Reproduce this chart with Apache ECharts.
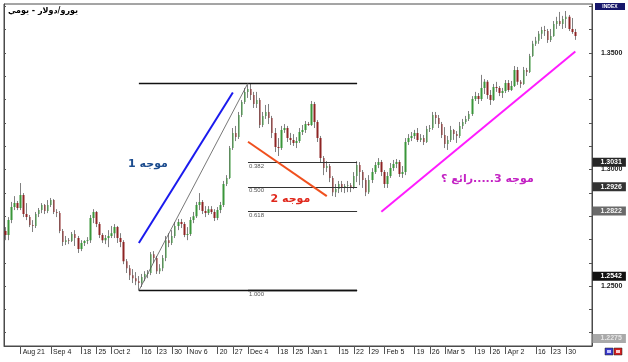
<!DOCTYPE html>
<html><head><meta charset="utf-8">
<script src="https://cdn.jsdelivr.net/npm/echarts@6/dist/echarts.min.js"></script>
<style>html,body{margin:0;padding:0;background:#fff}#c{width:628px;height:362px}</style>
</head><body><div id="c"></div>
<script>
// ---- Data: daily EUR/USD candles [open, close, low, high] ----
const aug06 = [
[1.2736,1.2719,1.2697,1.2753],[1.2719,1.2783,1.2697,1.2796],[1.2783,1.2839,1.2770,1.2861],[1.2839,1.2856,1.2826,1.2886],[1.2856,1.2835,1.2826,1.2865],
[1.2835,1.2891,1.2826,1.2942],[1.2891,1.2809,1.2796,1.2899],[1.2809,1.2796,1.2783,1.2856],[1.2796,1.2762,1.2753,1.2805],[1.2762,1.2758,1.2732,1.2783],
[1.2758,1.2809,1.2749,1.2818],[1.2809,1.2826,1.2796,1.2835],[1.2826,1.2848,1.2813,1.2856],[1.2848,1.2822,1.2809,1.2852]];
const sep06 = [
[1.2822,1.2848,1.2813,1.2869],
[1.2848,1.2869,1.2839,1.2878],[1.2869,1.2818,1.2809,1.2873],[1.2818,1.2813,1.2796,1.2830],[1.2813,1.2736,1.2727,1.2822],[1.2736,1.2689,1.2672,1.2745],
[1.2689,1.2697,1.2676,1.2715],[1.2697,1.2693,1.2680,1.2706],[1.2693,1.2723,1.2689,1.2732],[1.2723,1.2706,1.2672,1.2740],[1.2706,1.2659,1.2642,1.2715],
[1.2659,1.2685,1.2650,1.2697],[1.2685,1.2693,1.2672,1.2697],[1.2693,1.2697,1.2680,1.2710],[1.2697,1.2792,1.2685,1.2805],[1.2792,1.2818,1.2770,1.2830],
[1.2818,1.2766,1.2753,1.2822],[1.2766,1.2719,1.2706,1.2775],[1.2719,1.2697,1.2685,1.2727],[1.2697,1.2706,1.2680,1.2719],[1.2706,1.2715,1.2667,1.2740]];
const oct06 = [
[1.2715,1.2727,1.2706,1.2758],[1.2727,1.2753,1.2706,1.2766],[1.2753,1.2706,1.2685,1.2758],[1.2706,1.2689,1.2667,1.2727],[1.2689,1.2607,1.2594,1.2697],
[1.2607,1.2577,1.2556,1.2616],[1.2577,1.2547,1.2526,1.2590],[1.2547,1.2534,1.2513,1.2573],[1.2534,1.2521,1.2504,1.2560],[1.2521,1.2513,1.2481,1.2543],
[1.2513,1.2539,1.2496,1.2552],[1.2539,1.2552,1.2521,1.2564],[1.2552,1.2556,1.2534,1.2569],[1.2556,1.2637,1.2547,1.2646],[1.2637,1.2620,1.2599,1.2650],
[1.2620,1.2564,1.2552,1.2629],[1.2564,1.2577,1.2552,1.2594],[1.2577,1.2620,1.2564,1.2633],[1.2620,1.2697,1.2607,1.2715],[1.2697,1.2685,1.2667,1.2727],
[1.2685,1.2715,1.2676,1.2740],[1.2715,1.2758,1.2706,1.2775]];
const nov06 = [
[1.2758,1.2775,1.2740,1.2788],[1.2775,1.2766,1.2749,1.2788],[1.2766,1.2719,1.2710,1.2775],
[1.2719,1.2723,1.2697,1.2753],[1.2723,1.2783,1.2715,1.2796],[1.2783,1.2800,1.2770,1.2818],[1.2800,1.2848,1.2792,1.2861],[1.2848,1.2861,1.2826,1.2899],
[1.2861,1.2822,1.2809,1.2869],[1.2822,1.2813,1.2796,1.2843],[1.2813,1.2830,1.2805,1.2843],[1.2830,1.2818,1.2809,1.2843],[1.2818,1.2792,1.2779,1.2830],
[1.2792,1.2826,1.2783,1.2839],[1.2826,1.2848,1.2813,1.2861],[1.2848,1.2938,1.2839,1.2951],[1.2938,1.2964,1.2929,1.2976],[1.2964,1.3092,1.2959,1.3101],
[1.3092,1.3157,1.3084,1.3178],[1.3157,1.3139,1.3122,1.3187],[1.3139,1.3234,1.3131,1.3247],[1.3234,1.3290,1.3225,1.3298]];
const dec06 = [
[1.3290,1.3333,1.3281,1.3350],
[1.3333,1.3345,1.3307,1.3363],[1.3345,1.3320,1.3298,1.3371],[1.3320,1.3281,1.3264,1.3333],[1.3281,1.3298,1.3264,1.3333],[1.3298,1.3191,1.3178,1.3307],
[1.3191,1.3230,1.3182,1.3247],[1.3230,1.3247,1.3217,1.3277],[1.3247,1.3221,1.3195,1.3281],[1.3221,1.3157,1.3135,1.3230],[1.3157,1.3097,1.3075,1.3178],
[1.3097,1.3092,1.3058,1.3135],[1.3092,1.3170,1.3084,1.3187],[1.3170,1.3178,1.3157,1.3195],[1.3178,1.3135,1.3118,1.3187],[1.3135,1.3127,1.3105,1.3157],
[1.3127,1.3114,1.3101,1.3152],[1.3114,1.3122,1.3092,1.3139],[1.3122,1.3161,1.3114,1.3178],[1.3161,1.3170,1.3148,1.3191],[1.3170,1.3195,1.3157,1.3208]];
const jan07 = [
[1.3195,1.3191,1.3187,1.3204],[1.3191,1.3281,1.3187,1.3294],[1.3281,1.3204,1.3178,1.3290],[1.3204,1.3135,1.3118,1.3212],[1.3135,1.3049,1.3032,1.3144],
[1.3049,1.3006,1.2976,1.3058],[1.3006,1.3015,1.2989,1.3036],[1.3015,1.2964,1.2946,1.3024],[1.2964,1.2903,1.2886,1.2972],[1.2903,1.2916,1.2882,1.2938],
[1.2916,1.2938,1.2899,1.2951],[1.2938,1.2921,1.2903,1.2951],[1.2921,1.2929,1.2899,1.2938],[1.2929,1.2933,1.2903,1.2951],[1.2933,1.2925,1.2903,1.2942],
[1.2925,1.2972,1.2916,1.2989],[1.2972,1.3019,1.2946,1.3036],[1.3019,1.2989,1.2933,1.3032],[1.2989,1.2955,1.2921,1.2998],[1.2955,1.2903,1.2886,1.2964],
[1.2903,1.2955,1.2895,1.2976],[1.2955,1.2989,1.2942,1.3006],[1.2989,1.3019,1.2981,1.3032]];
const feb07 = [
[1.3019,1.3032,1.3006,1.3049],[1.3032,1.2989,1.2972,1.3041],
[1.2989,1.2938,1.2921,1.2998],[1.2938,1.2972,1.2921,1.2989],[1.2972,1.3006,1.2964,1.3028],[1.3006,1.3024,1.2994,1.3041],[1.3024,1.3032,1.3006,1.3045],
[1.3032,1.2981,1.2968,1.3041],[1.2981,1.2989,1.2964,1.3015],[1.2989,1.3118,1.2976,1.3135],[1.3118,1.3135,1.3105,1.3152],[1.3135,1.3144,1.3122,1.3161],
[1.3144,1.3157,1.3131,1.3170],[1.3157,1.3127,1.3118,1.3178],[1.3127,1.3135,1.3118,1.3152],[1.3135,1.3118,1.3105,1.3148],[1.3118,1.3174,1.3114,1.3187],
[1.3174,1.3178,1.3161,1.3191],[1.3178,1.3234,1.3170,1.3247],[1.3234,1.3221,1.3195,1.3247]];
const mar07 = [
[1.3221,1.3195,1.3178,1.3234],[1.3195,1.3148,1.3135,1.3204],
[1.3148,1.3109,1.3092,1.3182],[1.3109,1.3127,1.3084,1.3144],[1.3127,1.3170,1.3118,1.3187],[1.3170,1.3152,1.3127,1.3174],[1.3152,1.3144,1.3114,1.3165],
[1.3144,1.3187,1.3135,1.3204],[1.3187,1.3204,1.3174,1.3217],[1.3204,1.3217,1.3195,1.3230],[1.3217,1.3238,1.3208,1.3251],[1.3238,1.3303,1.3230,1.3315],
[1.3303,1.3315,1.3294,1.3333],[1.3315,1.3303,1.3281,1.3328],[1.3303,1.3350,1.3294,1.3406],[1.3350,1.3376,1.3324,1.3388],[1.3376,1.3320,1.3303,1.3384],
[1.3320,1.3298,1.3277,1.3341],[1.3298,1.3354,1.3294,1.3367],[1.3354,1.3350,1.3333,1.3376],[1.3350,1.3328,1.3315,1.3358],[1.3328,1.3337,1.3307,1.3350]];
const apr07 = [
[1.3337,1.3371,1.3328,1.3384],[1.3371,1.3341,1.3333,1.3384],[1.3341,1.3358,1.3337,1.3380],[1.3358,1.3427,1.3354,1.3444],[1.3427,1.3376,1.3363,1.3440],
[1.3376,1.3367,1.3350,1.3384],[1.3367,1.3427,1.3363,1.3440],[1.3427,1.3418,1.3401,1.3436],[1.3418,1.3487,1.3414,1.3496],[1.3487,1.3539,1.3483,1.3552],
[1.3539,1.3552,1.3530,1.3569],[1.3552,1.3582,1.3539,1.3594],[1.3582,1.3599,1.3560,1.3612],[1.3599,1.3594,1.3573,1.3616],[1.3594,1.3556,1.3543,1.3603],
[1.3556,1.3573,1.3547,1.3603],[1.3573,1.3624,1.3569,1.3637],[1.3624,1.3637,1.3603,1.3655],[1.3637,1.3624,1.3616,1.3676],[1.3624,1.3646,1.3603,1.3659],
[1.3646,1.3655,1.3607,1.3680]];
const may07 = [
[1.3655,1.3603,1.3594,1.3663],[1.3603,1.3590,1.3582,1.3650],[1.3590,1.3573,1.3556,1.3603]];

const candles = [].concat(aug06, sep06, oct06, nov06, dec06, jan07, feb07, mar07, apr07, may07);

// category axis: trading days starting Mon 2006-08-14, plus a few empty bars on the right
const firstDay = '2006-08-14';
const emptyBarsRight = 5;

// x tick labels
const tickDates = ['2006-08-21','2006-09-04','2006-09-18','2006-09-25','2006-10-02','2006-10-16','2006-10-23','2006-10-30','2006-11-06','2006-11-20','2006-11-27','2006-12-04','2006-12-18','2006-12-25','2007-01-01','2007-01-15','2007-01-22','2007-01-29','2007-02-05','2007-02-19','2007-02-26','2007-03-05','2007-03-19','2007-03-26','2007-04-02','2007-04-16','2007-04-23','2007-04-30'];
const tickTexts = ['Aug 21','Sep 4','18','25','Oct 2','16','23','30','Nov 6','20','27','Dec 4','18','25','Jan 1','15','22','29','Feb 5','19','26','Mar 5','19','26','Apr 2','16','23','30'];

// price axis
const yMin = 1.2243, yMax = 1.3710;
const yTickValues = [1.23,1.24,1.25,1.26,1.27,1.28,1.29,1.30,1.31,1.32,1.33,1.34,1.35,1.36,1.37];
const yLabelValues = [1.25,1.30,1.35];

// price tags on the right scale
const tagValues = [1.3031, 1.2926, 1.2822, 1.2542, 1.2275];

// Fibonacci retracement
const fibStartDate = '2006-10-13', fibMidDate = '2006-12-04', fibEndDate = '2007-01-23';
const fibHigh = 1.3371, fibLow = 1.2481;
const fibInnerValues = [1.3031, 1.2926, 1.2822];
const fibInnerTexts = ['0.382', '0.500', '0.618'];

// wave lines: [[date, price], [date, price]]
const wave1Line = [['2006-10-13', 1.2685], ['2006-11-27', 1.3330]];
const wave2Line = [['2006-12-04', 1.3119], ['2007-01-09', 1.2886]];
const wave3Line = [['2007-02-02', 1.2819], ['2007-05-03', 1.3506]];

// annotation texts
const waveTexts = ['موجه 1', 'موجه 2', 'موجه 3.....رائع ؟'];
const waveTextAnchors = [['2006-10-18', 1.3024], ['2006-12-22', 1.2873], ['2007-03-23', 1.2959]];
const titleText = 'يورو/دولار - يومي';

// ---- build ----
const dates = [];
(function(){
  const p = firstDay.split('-').map(Number);
  const d = new Date(Date.UTC(p[0], p[1]-1, p[2]));
  while (dates.length < candles.length + emptyBarsRight) {
    const wd = d.getUTCDay();
    if (wd > 0 && wd < 6) dates.push(d.toISOString().slice(0,10));
    d.setUTCDate(d.getUTCDate()+1);
  }
})();
const idx = d => dates.indexOf(d);
const tickMap = {};
tickDates.forEach((d,i) => tickMap[d] = tickTexts[i]);

const FONT = 'Liberation Sans';
const seg = (a, b, style, label) => [
  {coord: [idx(a[0]), a[1]], lineStyle: Object.assign({type:'solid'}, style), label: label || {show:false}},
  {coord: [idx(b[0]), b[1]]}
];
const fibStyle = {color:'#333', width:1};
const fibLabel = t => ({show:true, position:'insideStartBottom', formatter:t, fontSize:6, color:'#555', fontFamily:FONT, distance:[1,1]});

const markLines = [
  seg([fibStartDate, fibHigh], [fibEndDate, fibHigh], {color:'#111', width:1.3}),
  seg([fibStartDate, fibLow], [fibEndDate, fibLow], {color:'#111', width:1.3}),
  seg([fibMidDate, fibLow], [fibEndDate, fibLow], {color:'#111', width:1.3}, fibLabel('1.000')),
  seg([fibStartDate, fibLow], [fibMidDate, fibHigh], {color:'#555', width:0.8}),
].concat(fibInnerValues.map((v,i) => seg([fibMidDate, v], [fibEndDate, v], fibStyle, fibLabel(fibInnerTexts[i]))))
 .concat([
  seg(wave1Line[0], wave1Line[1], {color:'#1a1aee', width:2}),
  seg(wave2Line[0], wave2Line[1], {color:'#f0501e', width:2}),
  seg(wave3Line[0], wave3Line[1], {color:'#ff1cff', width:2}),
 ]);

const tagStyles = [
  {bg:'#262626', fg:'#ffffff'},
  {bg:'#333333', fg:'#ffffff'},
  {bg:'#6a6a6a', fg:'#f4f4f4'},
  {bg:'#111111', fg:'#ffffff'},
  {bg:'#a9a9a9', fg:'#e6e6e6'}
];
const lastIdx = () => dates.length - 1;
const tagPoints = tagValues.map((v,i) => ({
  coord: [lastIdx(), v],
  symbolSize: 0,
  label: {show:true, position:'right', distance:2, formatter: v.toFixed(4),
    backgroundColor: tagStyles[i].bg, color: tagStyles[i].fg, fontSize:7, fontWeight:'bold',
    fontFamily: FONT, padding:[1,4,0,8], lineHeight:8}
}));

const waveColors = ['#1d4d8f', '#e0281c', '#c424c4'];
const textPoints = waveTexts.map((t,i) => ({
  coord: [idx(waveTextAnchors[i][0]), waveTextAnchors[i][1]],
  symbolSize: 0,
  label: {show:true, position:'inside', formatter: t, color: waveColors[i], fontSize:11, fontWeight:'bold', fontFamily:'DejaVu Sans'}
}));

const chart = echarts.init(document.getElementById('c'), null, {renderer:'canvas'});
chart.setOption({
  animation: false,
  backgroundColor: '#ffffff',
  textStyle: {fontFamily: FONT},
  grid: {left:4, right:36, top:4, bottom:16, show:true, borderColor:'#4a4a4a', borderWidth:1, backgroundColor:'#fff'},
  xAxis: {
    type:'category', data: dates, boundaryGap: true,
    axisLine: {show:true, lineStyle:{color:'#4a4a4a'}},
    axisTick: {show:true, alignWithLabel:true, interval:(i,v)=> v in tickMap, length:8, lineStyle:{color:'#555'}},
    axisLabel: {interval:(i,v)=> v in tickMap, formatter: v => tickMap[v] || '', align:'left', margin:3,
      fontSize:7, color:'#222', fontFamily: FONT, padding:[0,0,0,2]},
    splitLine: {show:false}
  },
  yAxis: [{
    type:'value', position:'right', min:yMin, max:yMax,
    axisLine:{show:true, lineStyle:{color:'#4a4a4a'}},
    splitLine:{show:false},
    axisTick:{show:true, inside:true, length:3, customValues: yTickValues, lineStyle:{color:'#555'}},
    axisLabel:{show:true, customValues: yLabelValues, formatter: v => v.toFixed(4), fontSize:7, fontWeight:'bold', color:'#222', margin:9, fontFamily: FONT}
  },{
    type:'value', position:'left', min:yMin, max:yMax,
    axisLine:{show:true, lineStyle:{color:'#4a4a4a'}},
    splitLine:{show:false},
    axisTick:{show:true, inside:true, length:2, customValues: yTickValues, lineStyle:{color:'#555'}},
    axisLabel:{show:false}
  }],
  series: [{
    name:'wick', type:'candlestick', data: candles, barWidth:1, silent:true, clip:false,
    itemStyle:{color:'#808080', color0:'#808080', borderColor:'#808080', borderColor0:'#808080', borderWidth:1},
    markPoint:{silent:true, symbol:'circle', symbolSize:0, animation:false, data: tagPoints}
  },{
    name:'body', type:'candlestick', data: candles, barWidth:2, silent:true,
    itemStyle:{color:'#3a963a', color0:'#8e2424', borderColor:'rgba(0,0,0,0)', borderColor0:'rgba(0,0,0,0)', borderWidth:0},
    markLine:{silent:true, symbol:['none','none'], animation:false, lineStyle:{type:'solid'}, label:{show:false}, data: markLines},
    markPoint:{silent:true, symbol:'circle', symbolSize:0, animation:false, data: textPoints}
  }],
  graphic: [
    {type:'text', left:8, top:7, style:{text: titleText, font:'bold 8px "DejaVu Sans"', fill:'#000'}},
    {type:'rect', shape:{x:595, y:3, width:30, height:7}, style:{fill:'#16166a'}},
    {type:'text', x:610, y:6.5, style:{text:'INDEX', font:'bold 5px "Liberation Sans"', fill:'#fff', align:'center', verticalAlign:'middle'}},
    {type:'rect', shape:{x:605, y:348, width:8, height:7}, style:{fill:'#3a3acc', stroke:'#222', lineWidth:0.5}},
    {type:'rect', shape:{x:607, y:350, width:4, height:3}, style:{fill:'#c8c8ff'}},
    {type:'rect', shape:{x:614, y:348, width:8, height:7}, style:{fill:'#d42020', stroke:'#222', lineWidth:0.5}},
    {type:'rect', shape:{x:616, y:350, width:4, height:3}, style:{fill:'#ffd0d0'}}
  ]
});
</script></body></html>
